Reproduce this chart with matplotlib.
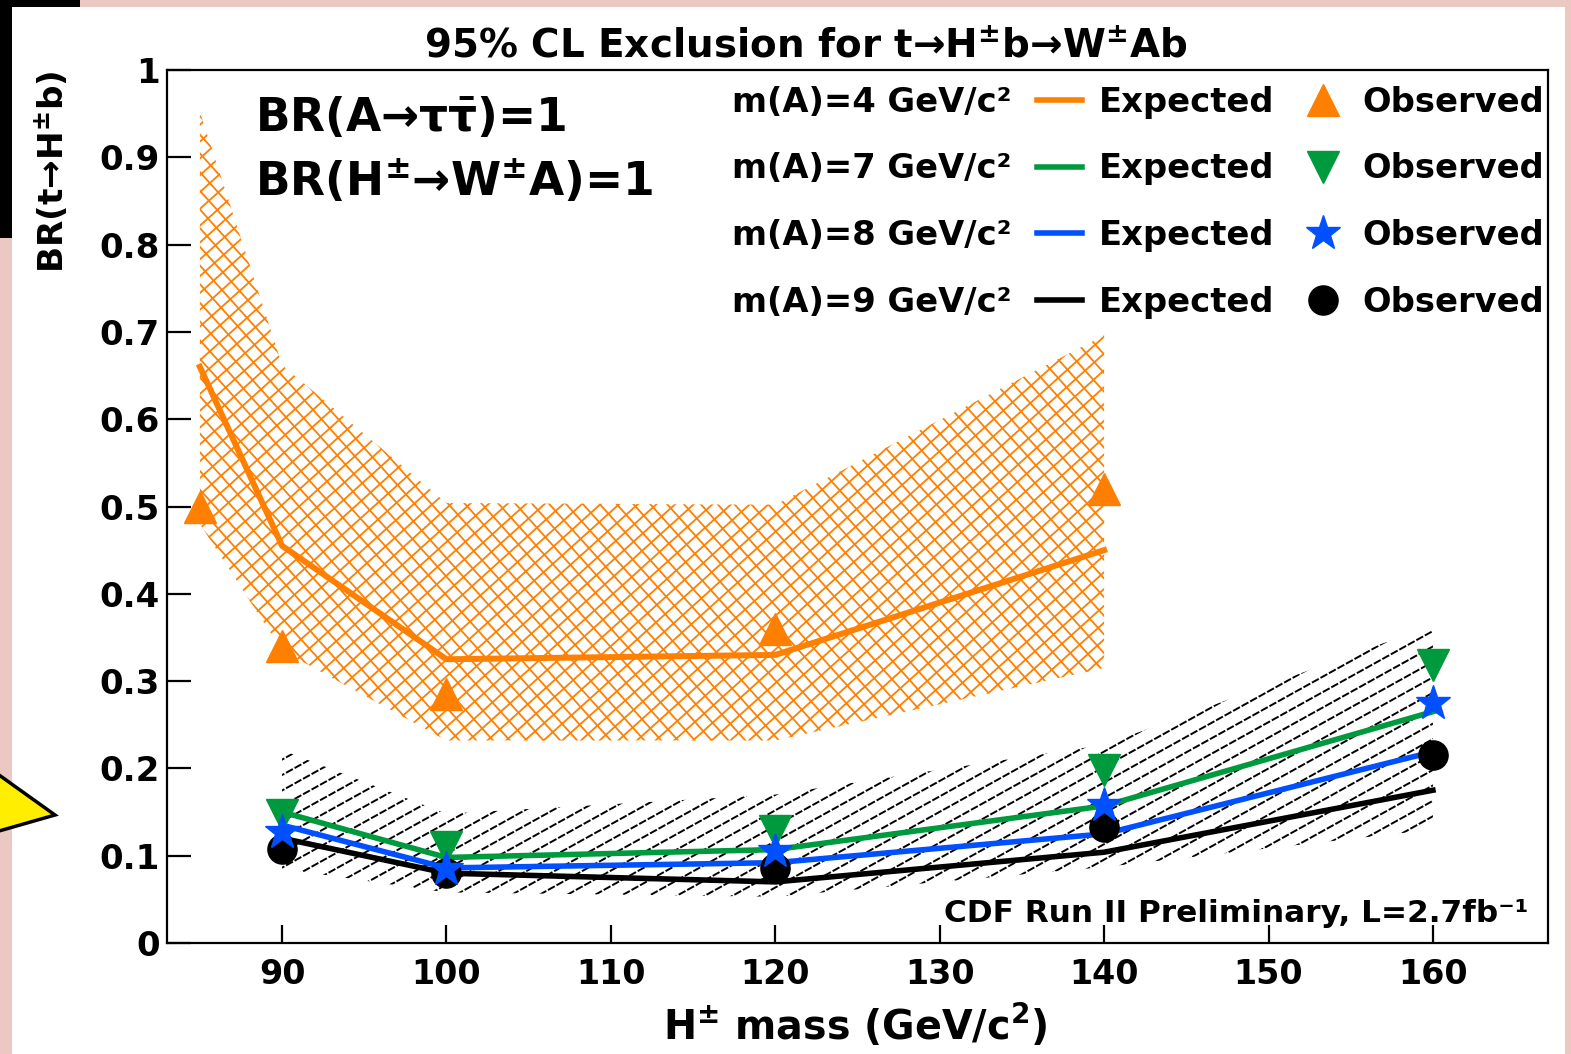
"""
CDF 95% CL exclusion on BR(t -> H+ b) with H+ -> W+ A, A -> tau tau.
Saves to out.png
"""
import numpy as np
import matplotlib
matplotlib.use("Agg")
import matplotlib.pyplot as plt
from matplotlib.collections import LineCollection
from matplotlib.lines import Line2D
from matplotlib.patches import Rectangle, Polygon

# ── data ─────────────────────────────────────────────────────────────────────
mass_a4    = [85, 90, 100, 120, 140]
exp_a4     = [0.66, 0.455, 0.325, 0.33, 0.45]
obs_a4     = [0.50, 0.34, 0.285, 0.36, 0.52]
band_a4_lo = [0.48, 0.335, 0.232, 0.232, 0.315]
band_a4_hi = [0.952, 0.662, 0.504, 0.502, 0.696]

mass_hi    = [90, 100, 120, 140, 160]
exp_a7     = [0.15, 0.098, 0.107, 0.157, 0.265]
obs_a7     = [0.147, 0.11, 0.128, 0.198, 0.318]
exp_a8     = [0.135, 0.086, 0.092, 0.125, 0.219]
obs_a8     = [0.127, 0.085, 0.105, 0.158, 0.275]
exp_a9     = [0.12, 0.08, 0.07, 0.104, 0.175]
obs_a9     = [0.108, 0.08, 0.086, 0.133, 0.215]
band_a9_lo = [0.085, 0.058, 0.053, 0.087, 0.13]
band_a9_hi = [0.221, 0.148, 0.17, 0.227, 0.364]

x_ticks  = [90, 100, 110, 120, 130, 140, 150, 160]
y_ticks  = [0, 0.1, 0.2, 0.3, 0.4, 0.5, 0.6, 0.7, 0.8, 0.9, 1]
y_labels = ["0", "0.1", "0.2", "0.3", "0.4", "0.5", "0.6", "0.7", "0.8", "0.9", "1"]

legend_masses = ["m(A)=4 GeV/c²", "m(A)=7 GeV/c²", "m(A)=8 GeV/c²", "m(A)=9 GeV/c²"]

ORANGE = "#FF7F00"
GREEN  = "#009A3E"
BLUE   = "#0050FF"
BLACK  = "#000000"
PINK   = "#ECC8C2"

plt.rcParams["font.family"] = ["DejaVu Sans"]
plt.rcParams["font.weight"] = "bold"
plt.rcParams["mathtext.default"] = "bf"

W, H = 1571, 1054
fig = plt.figure(figsize=(W / 100, H / 100), dpi=100)
fig.patch.set_facecolor(PINK)

# ── slide remnants around the plot ───────────────────────────────────────────
fig.add_artist(Rectangle((12 / W, 0), 1553 / W, 1 - 7 / H, transform=fig.transFigure,
                         facecolor="white", edgecolor="none", zorder=-2))
fig.add_artist(Rectangle((0, 1 - 7 / H), 80 / W, 7 / H, transform=fig.transFigure,
                         facecolor="black", edgecolor="none", zorder=-1))
fig.add_artist(Rectangle((0, 1 - 238 / H), 12 / W, 238 / H, transform=fig.transFigure,
                         facecolor="black", edgecolor="none", zorder=-1))
tri = [(-8 / W, 1 - 770 / H), (55 / W, 1 - 815 / H), (-8 / W, 1 - 833 / H)]
fig.add_artist(Polygon(tri, closed=True, transform=fig.transFigure,
                       facecolor="#FFEE00", edgecolor="black", lw=2.5, zorder=1))

AX_L, AX_T, AX_W, AX_H = 167, 70, 1381, 873
ax = fig.add_axes([AX_L / W, 1 - (AX_T + AX_H) / H, AX_W / W, AX_H / H])
ax.set_facecolor("white")
ax.set_xlim(83, 167)
ax.set_ylim(0, 1)


def hatch_band(x, lo, hi, color, angles, gap, lw, z, ls="-"):
    """fill_between region drawn as clipped hatch lines (gap in pixels)."""
    body = ax.fill_between(x, lo, hi, facecolor="none", edgecolor="none")
    clip = body.get_paths()[0]
    for ang in angles:
        slope = np.tan(np.radians(ang)) * AX_W / AX_H
        step = gap / np.cos(np.radians(ang)) / AX_H
        offs = np.arange(-abs(slope) - 0.1, 1.1 + abs(slope), step)
        segs = [[(0, o), (1, o + slope)] for o in offs]
        lc = LineCollection(segs, colors=color, linewidths=lw, linestyles=ls,
                            transform=ax.transAxes, zorder=z)
        lc.set_clip_path(clip, ax.transData)
        ax.add_collection(lc)


# ── bands ─────────────────────────────────────────────────────────────────────
hatch_band(mass_a4, band_a4_lo, band_a4_hi, ORANGE, [42, -48], 12.5, 1.3, 2)
hatch_band(mass_hi, band_a9_lo, band_a9_hi, BLACK, [29], 13.5, 1.4, 2, ls=(0, (4, 1)))

# ── expected lines ────────────────────────────────────────────────────────────
ax.plot(mass_a4, exp_a4, color=ORANGE, lw=4.3, zorder=4)
ax.plot(mass_hi, exp_a9, color=BLACK, lw=4.0, zorder=4)
ax.plot(mass_hi, exp_a8, color=BLUE, lw=4.0, zorder=4)
ax.plot(mass_hi, exp_a7, color=GREEN, lw=4.0, zorder=4)

# ── observed markers ──────────────────────────────────────────────────────────
MS = 23
ax.plot(mass_a4, obs_a4, ls="none", marker="^", ms=MS, color=ORANGE, zorder=6)
ax.plot(mass_hi, obs_a9, ls="none", marker="o", ms=MS - 2, color=BLACK, zorder=6)
ax.plot(mass_hi, obs_a7, ls="none", marker="v", ms=MS, color=GREEN, zorder=6)
ax.plot(mass_hi, obs_a8, ls="none", marker="*", ms=MS + 3, color=BLUE, zorder=7)

# ── axes styling ──────────────────────────────────────────────────────────────
for sp in ax.spines.values():
    sp.set_linewidth(1.6)
ax.set_xticks(x_ticks)
ax.set_xticklabels([str(v) for v in x_ticks])
ax.set_yticks(y_ticks)
ax.set_yticklabels(y_labels)
ax.tick_params(axis="y", direction="in", length=17, width=1.6, labelsize=24.5, pad=5)
ax.tick_params(axis="x", direction="in", length=13, width=1.6, labelsize=24, pad=11)
for lab in ax.get_xticklabels() + ax.get_yticklabels():
    lab.set_fontweight("bold")

# ── legend ────────────────────────────────────────────────────────────────────
blank = [Line2D([], [], ls="none") for _ in legend_masses]
lines = [Line2D([], [], color=c, lw=4) for c in (ORANGE, GREEN, BLUE, BLACK)]
marks = [Line2D([], [], ls="none", marker=m, ms=s, color=c)
         for m, s, c in (("^", MS, ORANGE), ("v", MS, GREEN), ("*", MS + 3, BLUE), ("o", MS - 2, BLACK))]
ax.legend(blank + lines + marks,
          legend_masses + ["Expected"] * 4 + ["Observed"] * 4,
          ncol=3, loc="upper right", bbox_to_anchor=(0.9972, 0.982),
          frameon=False, borderpad=0, borderaxespad=0,
          handlelength=1.35, handletextpad=0.5, columnspacing=0.75,
          labelspacing=1.0, prop={"weight": "bold", "size": 24.3})

# ── texts ─────────────────────────────────────────────────────────────────────
ax.text(0.0637, 0.944, r"BR(A→τ$\bar{\tau}$)=1", transform=ax.transAxes,
        ha="left", va="center", fontsize=32.8, fontweight="bold")
ax.text(0.0637, 0.872, r"BR(H$^{\pm}$→W$^{\pm}$A)=1", transform=ax.transAxes,
        ha="left", va="center", fontsize=32.8, fontweight="bold")
ax.text(0.9855, 0.024, "CDF Run II Preliminary, L=2.7fb⁻¹", transform=ax.transAxes,
        ha="right", va="baseline", fontsize=22.4, fontweight="bold")

fig.text(806 / W, 1 - 46 / H, r"95% CL Exclusion for t→H$^{\pm}$b→W$^{\pm}$Ab",
         ha="center", va="center", fontsize=28, fontweight="bold")
fig.text(52 / W, 1 - 70 / H, r"BR(t→H$^{\pm}$b)", rotation=90,
         ha="center", va="top", fontsize=24.7, fontweight="bold")
fig.text(855 / W, 1 - 1025 / H, r"H$^{\pm}$ mass (GeV/c$^{2}$)",
         ha="center", va="center", fontsize=28.5, fontweight="bold")

fig.savefig("out.png", dpi=100, facecolor=fig.get_facecolor())
plt.close(fig)
